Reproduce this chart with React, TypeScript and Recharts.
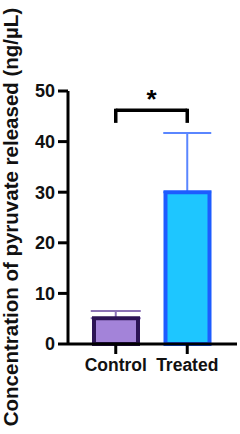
import { ComposedChart, Bar, Cell, Scatter, XAxis, YAxis, ErrorBar, ReferenceLine } from "recharts";

const groups = ["Control", "Treated"];
const means = [5.1, 30];
const errUp = [1.4, 11.7];
const yTicks = [0, 10, 20, 30, 40, 50];
const fills = ["#a383d9", "#1ec6ff"];
const strokes = ["#2c1455", "#1d5cff"];
const errColors = ["#8b72b5", "#5a86ff"];

const FONT = "'Liberation Sans', Arial, sans-serif";

const data = groups.map((g, i) => ({
  group: g,
  mean: means[i],
  errCtrl: i === 0 ? [0, errUp[i]] : null,
  errTreat: i === 1 ? [0, errUp[i]] : null,
}));

const YLabel = () => (
  <text
    x={18}
    y={217}
    transform="rotate(-90 18 217)"
    textAnchor="middle"
    fontFamily={FONT}
    fontWeight="bold"
    fontSize={20.5}
    fill="#111"
  >
    Concentration of pyruvate released (ng/µL)
  </text>
);

export default function App() {
  const xTick = { fontSize: 17.5, fontWeight: "bold", fill: "#111", fontFamily: FONT };
  const yTick = { fontSize: 18, fontWeight: "bold", fill: "#111", fontFamily: FONT };
  return (
    <div style={{ position: "absolute", left: 0, top: 0, background: "#fff" }}>
      <ComposedChart
        width={240}
        height={434}
        data={data}
        margin={{ top: 91, right: 3, bottom: 60, left: 0 }}
        barSize={44}
      >
        <XAxis
          dataKey="group"
          height={30}
          padding={{ left: 12, right: 14 }}
          tick={xTick}
          tickSize={10}
          tickMargin={5}
          axisLine={{ stroke: "#000", strokeWidth: 3 }}
          tickLine={{ stroke: "#000", strokeWidth: 3 }}
          interval={0}
        />
        <YAxis
          width={68}
          domain={[0, 50]}
          ticks={yTicks}
          tick={yTick}
          tickSize={10}
          tickMargin={3}
          axisLine={{ stroke: "#000", strokeWidth: 3 }}
          tickLine={{ stroke: "#000", strokeWidth: 3 }}
          label={{ content: () => <YLabel /> }}
        />
        {/* error bars go under the bars so the lower cap is hidden by the bar outline */}
        <Scatter dataKey="mean" shape={() => null} isAnimationActive={false} zIndex={100}>
          <ErrorBar dataKey="errCtrl" width={25} stroke={errColors[0]} strokeWidth={2} direction="y" zIndex={100} />
          <ErrorBar dataKey="errTreat" width={24} stroke={errColors[1]} strokeWidth={2} direction="y" zIndex={100} />
        </Scatter>
        <Bar dataKey="mean" strokeWidth={4} isAnimationActive={false} zIndex={300}>
          {data.map((d, i) => (
            <Cell key={d.group} fill={fills[i]} stroke={strokes[i]} />
          ))}
        </Bar>
        <ReferenceLine
          segment={[{ x: "Control", y: 46.2 }, { x: "Treated", y: 46.2 }]}
          stroke="#000"
          strokeWidth={3.5}
          label={{ value: "*", position: "top", offset: 2, fontSize: 26, fontWeight: "bold", fill: "#000", fontFamily: FONT }}
        />
        <ReferenceLine
          segment={[{ x: "Control", y: 43.7 }, { x: "Control", y: 46.5 }]}
          stroke="#000"
          strokeWidth={3.5}
        />
        <ReferenceLine
          segment={[{ x: "Treated", y: 43.7 }, { x: "Treated", y: 46.5 }]}
          stroke="#000"
          strokeWidth={3.5}
        />
      </ComposedChart>
    </div>
  );
}
